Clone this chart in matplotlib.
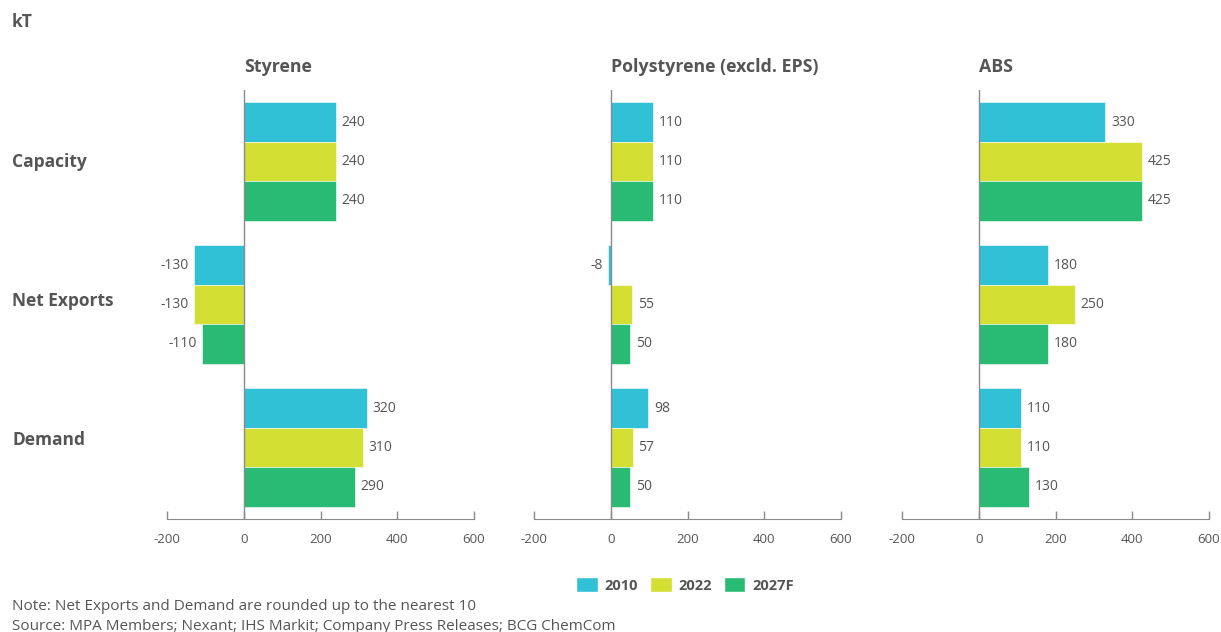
import matplotlib
matplotlib.use("Agg")
import matplotlib.pyplot as plt
import numpy as np
from matplotlib.patches import Patch

# data (kT)
categories = ["Capacity", "Net Exports", "Demand"]
years = ["2010", "2022", "2027F"]
panels = ["Styrene", "Polystyrene (excld. EPS)", "ABS"]

styrene_2010 = [240, -130, 320]
styrene_2022 = [240, -130, 310]
styrene_2027 = [240, -110, 290]

poly_2010 = [110, -8, 98]
poly_2022 = [110, 55, 57]
poly_2027 = [110, 50, 50]

abs_2010 = [330, 180, 110]
abs_2022 = [425, 250, 110]
abs_2027 = [425, 180, 130]

xticks = [-200, 0, 200, 400, 600]

colors = ["#30C1D7", "#D4DF33", "#29BA74"]
grey = "#555555"
axis_grey = "#8a8a8a"

plt.rcParams["font.family"] = ["Open Sans", "DejaVu Sans"]

fig = plt.figure(figsize=(12.21, 6.32), dpi=100)

panel_data = [
    [styrene_2010, styrene_2022, styrene_2027],
    [poly_2010, poly_2022, poly_2027],
    [abs_2010, abs_2022, abs_2027],
]
lefts = [167, 534, 902]
W, H = 1221.0, 632.0

bar_h = 0.276
y = np.arange(len(categories))

for p, (name, series) in enumerate(zip(panels, panel_data)):
    ax = fig.add_axes([lefts[p] / W, 1 - 519 / H, 307 / W, 429 / H])
    for i, vals in enumerate(series):
        pos = y + (i - 1) * bar_h
        ax.barh(pos, vals, height=bar_h, color=colors[i], edgecolor="white", linewidth=0.4, zorder=2)
        for yy, v in zip(pos, vals):
            if v >= 0:
                ax.text(v + 15, yy, str(v), ha="left", va="center", fontsize=10, color=grey)
            else:
                ax.text(v - 13, yy, str(v), ha="right", va="center", fontsize=10, color=grey)
    ax.set_xlim(-200, 600)
    ax.set_ylim(2.5, -0.5)
    ax.set_yticks([])
    ax.set_xticks(xticks)
    ax.set_xticklabels([str(t) for t in xticks])
    ax.tick_params(axis="x", direction="in", length=6, color=axis_grey, labelcolor=grey,
                   labelsize=9.5, pad=10, width=1)
    for s in ["top", "right", "left"]:
        ax.spines[s].set_visible(False)
    ax.spines["bottom"].set_color(axis_grey)
    ax.axvline(0, color=axis_grey, linewidth=1, zorder=3)
    ax.text(0, -0.66, name, ha="left", va="center", fontsize=12.8, fontweight="bold", color=grey)

# row labels
for cat, yc in zip(categories, [162, 301, 440]):
    fig.text(12 / W, 1 - yc / H, cat, ha="left", va="center", fontsize=12.5, fontweight="bold", color=grey)

fig.text(12 / W, 1 - 22 / H, "kT", ha="left", va="center", fontsize=12.5, fontweight="bold", color=grey)

handles = [Patch(facecolor=c, edgecolor="white") for c in colors]
leg = fig.legend(handles, years, loc="center", bbox_to_anchor=(685 / W, 1 - 585 / H), ncol=3,
                 frameon=False, fontsize=10.5, handlelength=1.5, handleheight=1.15,
                 columnspacing=0.8, handletextpad=0.45)
for t in leg.get_texts():
    t.set_color(grey)
    t.set_fontweight("bold")

fig.text(12 / W, 1 - 606 / H, "Note: Net Exports and Demand are rounded up to the nearest 10",
         ha="left", va="center", fontsize=11, color=grey)
fig.text(12 / W, 1 - 626 / H, "Source: MPA Members; Nexant; IHS Markit; Company Press Releases; BCG ChemCom",
         ha="left", va="center", fontsize=11, color=grey)

fig.savefig("out.png", dpi=100)
